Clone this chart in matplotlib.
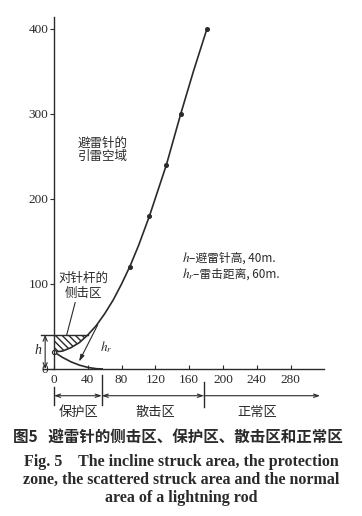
import numpy as np
import matplotlib
matplotlib.use("Agg")
import matplotlib.pyplot as plt

# ---- data ----
# attraction boundary of the rod (parabola through (0,20))
curve_x = [0, 10, 20, 30, 40, 50, 60, 70, 80, 90, 100, 113, 133, 150, 165, 181]
curve_y = [20, 21, 25, 31, 40, 51, 65, 81, 100, 121, 145, 180, 240, 300, 350, 400]
marker_x = [90, 113, 133, 150, 181]
marker_y = [120, 180, 240, 300, 400]
# protection boundary (arc from the rod down to the ground)
arc_x = [0, 10, 20, 30, 40, 50, 57]
arc_y = [20, 13.6, 8.4, 4.5, 1.8, 0.3, 0]
# side-strike (hatched) zone: between the parabola and the rod top
hatch_x = [0, 10, 20, 30, 40]
hatch_low = [20, 21, 25, 31, 40]
rod_h = 40
xticks = [0, 40, 80, 120, 160, 200, 240, 280]
yticks = [0, 100, 200, 300, 400]
zone_edges = [0, 56.5, 177.5, 315]
zone_names = ["保护区", "散击区", "正常区"]
zone_label_x = [29, 120, 240]

CJK = ["Noto Sans CJK SC", "DejaVu Sans"]
SERIF = ["Liberation Serif", "DejaVu Serif"]
INK = "#2a2a2a"

fig = plt.figure(figsize=(3.62, 5.16), dpi=100)
ax = fig.add_axes([0.0909, 0.285, 0.805, 0.682])
ax.set_xlim(-25, 320)
ax.set_ylim(0, 414)

for s in ("top", "right"):
    ax.spines[s].set_visible(False)
ax.spines["left"].set_position(("data", 0))
ax.spines["bottom"].set_bounds(-13, 320)
for s in ("left", "bottom"):
    ax.spines[s].set_color(INK)
    ax.spines[s].set_linewidth(1.0)

ax.set_xticks(xticks)
ax.set_yticks(yticks)
ax.tick_params(axis="x", direction="in", length=3, colors=INK, pad=4)
ax.tick_params(axis="y", direction="out", length=3, colors=INK, pad=1)
for lab in ax.get_xticklabels() + ax.get_yticklabels():
    lab.set_family(SERIF)
    lab.set_fontsize(9.5)

# curves
ax.plot(curve_x, curve_y, color=INK, lw=1.2)
ax.plot(marker_x, marker_y, "o", color=INK, ms=2.6)
ax.plot(arc_x, arc_y, color=INK, lw=1.2)
ax.fill_between(hatch_x, hatch_low, rod_h, facecolor="none", edgecolor=INK,
                hatch="\\\\\\\\\\", lw=0)
ax.plot([-15, 40], [rod_h, rod_h], color=INK, lw=1.0)
ax.plot([0], [20], "o", mfc="white", mec=INK, ms=3, mew=0.8)

# h dimension
ax.annotate("", xy=(-10.5, 0), xytext=(-10.5, rod_h),
            arrowprops=dict(arrowstyle="<->,head_length=0.35,head_width=0.15",
                            color=INK, lw=0.8, shrinkA=0, shrinkB=0))
ax.text(-19, 22, "h", family=SERIF, style="italic", fontsize=10, color=INK,
        ha="center", va="center")

# h_r arrow
ax.annotate("", xy=(29.6, 8.6), xytext=(51.7, 51.8),
            arrowprops=dict(arrowstyle="-|>,head_length=0.4,head_width=0.12",
                            color=INK, lw=0.8, shrinkA=0, shrinkB=0))
ax.text(54, 26, r"$h_r$", fontsize=9.5, color=INK, ha="left", va="center",
        math_fontfamily="stix")

# side strike label + leader line
ax.text(35, 107, "对针杆的", family=CJK, fontsize=9, color=INK, ha="center", va="center")
ax.text(35, 89, "侧击区", family=CJK, fontsize=9, color=INK, ha="center", va="center")
ax.plot([25, 15], [78, 40], color=INK, lw=0.8)

ax.text(28, 266, "避雷针的", family=CJK, fontsize=9, color=INK, ha="left", va="center")
ax.text(28, 250, "引雷空域", family=CJK, fontsize=9, color=INK, ha="left", va="center")

# legend-like notes
ax.text(151, 130, r"$h$", fontsize=9.5, color=INK, ha="left", va="center",
        math_fontfamily="stix")
ax.text(160, 130, "–避雷针高, 40m.", family=CJK, fontsize=8.5, color=INK,
        ha="left", va="center")
ax.text(151, 112, r"$h_r$", fontsize=9.5, color=INK, ha="left", va="center",
        math_fontfamily="stix")
ax.text(165, 112, "–雷击距离, 60m.", family=CJK, fontsize=8.5, color=INK,
        ha="left", va="center")

# zone brackets under the axis
bar_top = [-21, -7, -15]
bar_bot = [-42, -42, -45]
for x, t, b in zip(zone_edges[:3], bar_top, bar_bot):
    ax.plot([x, x], [t, b], color=INK, lw=1.0, clip_on=False)
for i in range(3):
    style = "<->" if i < 2 else "<-"
    ax.annotate("", xy=(zone_edges[i], -31.5), xytext=(zone_edges[i + 1], -31.5),
                annotation_clip=False,
                arrowprops=dict(arrowstyle=style + ",head_length=0.35,head_width=0.12",
                                color=INK, lw=0.8, shrinkA=0, shrinkB=0))
    ax.text(zone_label_x[i], -44, zone_names[i], family=CJK, fontsize=9.5,
            color=INK, ha="center", va="top", clip_on=False)

# caption
fig.text(0.49, 1 - 438 / 516, "图5   避雷针的侧击区、保护区、散击区和正常区",
         family=CJK, fontweight="bold", fontsize=11.2, color=INK, ha="center", va="center")
fig.text(0.5, 1 - 462 / 516, "Fig. 5    The incline struck area, the protection",
         family=SERIF, fontweight="bold", fontsize=11.5, color=INK, ha="center", va="center")
fig.text(0.5, 1 - 480 / 516, "zone, the scattered struck area and the normal",
         family=SERIF, fontweight="bold", fontsize=11.5, color=INK, ha="center", va="center")
fig.text(0.5, 1 - 498 / 516, "area of a lightning rod",
         family=SERIF, fontweight="bold", fontsize=11.5, color=INK, ha="center", va="center")

fig.savefig("out.png", dpi=100)
